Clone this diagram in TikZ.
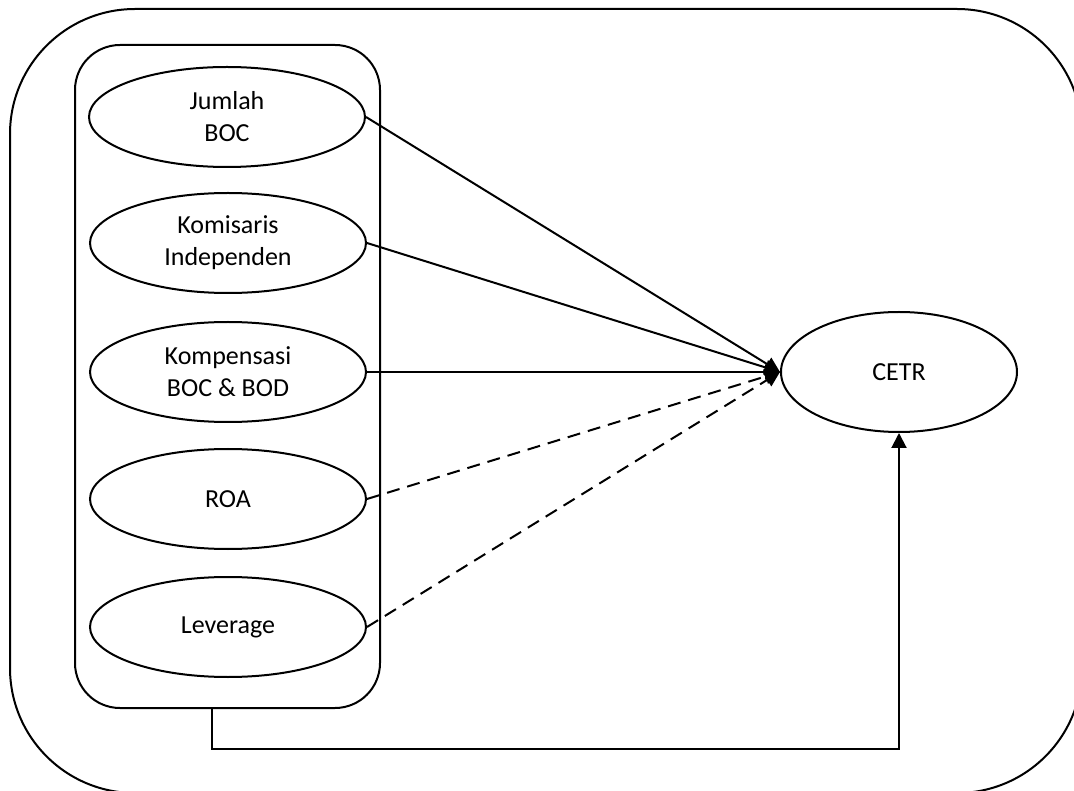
\documentclass[tikz,border=0pt]{standalone}
\usepackage{fontspec}
\setmainfont{Carlito}
\usetikzlibrary{shapes.geometric,arrows.meta}
\begin{document}
\begin{tikzpicture}[x=1pt,y=-1pt,
  every node/.style={font=\fontsize{26}{32}\selectfont},
  var/.style={draw,line width=2pt,ellipse,minimum width=276,minimum height=100,inner sep=0pt,align=center},
  frame/.style={draw,line width=2pt},
  link/.style={line width=2pt,-{Triangle[length=15pt,width=15pt]}},
  weak/.style={link,dash pattern=on 13pt off 8pt}]
\clip (0,0) rectangle (1074,791);
% outer frame (runs past the page edge on the right and at the bottom)
\draw[frame,rounded corners=125] (10,9) rectangle (1082,793);
% inner group of independent variables
\node[frame,rounded corners=45,minimum width=305,minimum height=663,inner sep=0pt] (group) at (227.5,376.5) {};
\node[var] (jumlah) at (227,117) {Jumlah\\BOC};
\node[var] (komisaris) at (228,243) {Komisaris\\Independen};
\node[var] (kompensasi) at (228,372) {Kompensasi\\BOC \& BOD};
\node[var] (roa) at (228,499) {ROA};
\node[var] (leverage) at (228,627) {Leverage};
\node[var,minimum width=236,minimum height=120] (cetr) at (899,372) {CETR};
% paths into CETR
\draw[link] (jumlah.east) -- (cetr.west);
\draw[link] (komisaris.east) -- (cetr.west);
\draw[link] (kompensasi.east) -- (cetr.west);
\draw[weak] (roa.east) -- (cetr.west);
\draw[weak] (leverage.east) -- (cetr.west);
% joint effect of the whole group
\draw[link] ([xshift=-15.5pt]group.south) -- ++(0,40) -| (cetr.south);
\end{tikzpicture}
\end{document}
